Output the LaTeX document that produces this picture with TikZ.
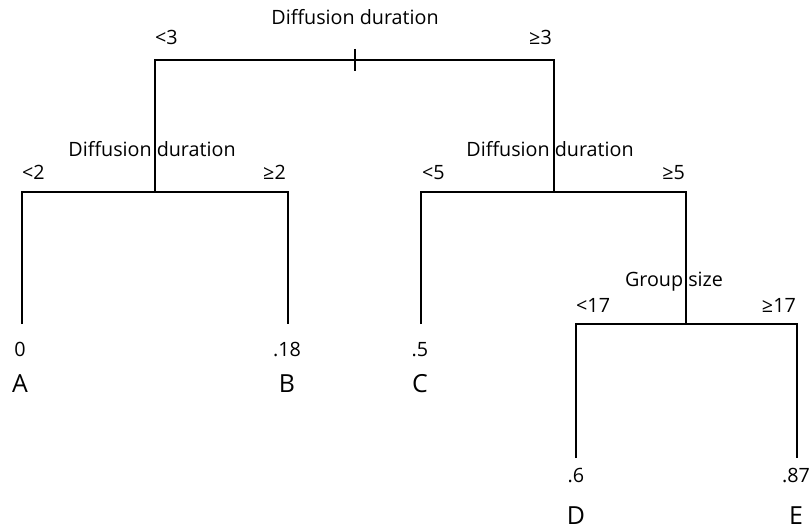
\documentclass[tikz,border=0pt]{standalone}
\usepackage{fontspec}
\setmainfont{Open Sans}
\begin{document}
\begin{tikzpicture}[x=1bp,y=-1bp,
  edge/.style={line width=1.8bp,black},
  lbl/.style={inner sep=0pt,font=\fontsize{19.8}{22}\selectfont},
  leaf/.style={inner sep=0pt,font=\fontsize{25}{27}\selectfont}]
\useasboundingbox (0,0) rectangle (809,531);
% tree points
\coordinate (rl) at (155,60);
\coordinate (rr) at (554,60);
\coordinate (rt) at (355,49);
\coordinate (rb) at (355,71);
\coordinate (l) at (155,192);
\coordinate (ll) at (22,192);
\coordinate (lr) at (288,192);
\coordinate (r2) at (554,192);
\coordinate (r2l) at (421,192);
\coordinate (r2r) at (686,192);
\coordinate (a) at (22,324);
\coordinate (b) at (288,324);
\coordinate (c) at (421,324);
\coordinate (g) at (686,324);
\coordinate (gl) at (576,324);
\coordinate (gr) at (797,324);
\coordinate (d) at (576,458);
\coordinate (e) at (797,458);
% connectors
\draw[edge] (l) -- (rl) -- (rr) -- (r2);
\draw[line width=1.2bp] (rt) -- (rb);
\draw[edge] (a) -- (ll) -- (lr) -- (b);
\draw[edge] (c) -- (r2l) -- (r2r) -- (g);
\draw[edge] (d) -- (gl) -- (gr) -- (e);
% split labels
\node[lbl,anchor=base] (t1) at (355,25) {Diffusion duration};
\node[lbl,anchor=base west] (t1a) at (155,45) {<3};
\node[lbl,anchor=base east] (t1b) at (552,45) {≥3};
\node[lbl,anchor=base] (t2) at (152,157) {Diffusion duration};
\node[lbl,anchor=base west] (t2a) at (22,180) {<2};
\node[lbl,anchor=base east] (t2b) at (286,180) {≥2};
\node[lbl,anchor=base] (t3) at (550,157) {Diffusion duration};
\node[lbl,anchor=base west] (t3a) at (422,180) {<5};
\node[lbl,anchor=base east] (t3b) at (685,180) {≥5};
\node[lbl,anchor=base] (t4) at (674,287) {Group size};
\node[lbl,anchor=base west] (t4a) at (576,313) {<17};
\node[lbl,anchor=base east] (t4b) at (796,313) {≥17};
% leaves
\node[lbl,anchor=base] (va) at (20,356) {0};
\node[lbl,anchor=base] (vb) at (287,356) {.18};
\node[lbl,anchor=base] (vc) at (420,356) {.5};
\node[lbl,anchor=base] (vd) at (576,482) {.6};
\node[lbl,anchor=base] (ve) at (796,482) {.87};
\node[leaf,anchor=base] (na) at (20,392) {A};
\node[leaf,anchor=base] (nb) at (287,392) {B};
\node[leaf,anchor=base] (nc) at (420,392) {C};
\node[leaf,anchor=base] (nd) at (576,524) {D};
\node[leaf,anchor=base] (ne) at (796,524) {E};
\end{tikzpicture}
\end{document}
